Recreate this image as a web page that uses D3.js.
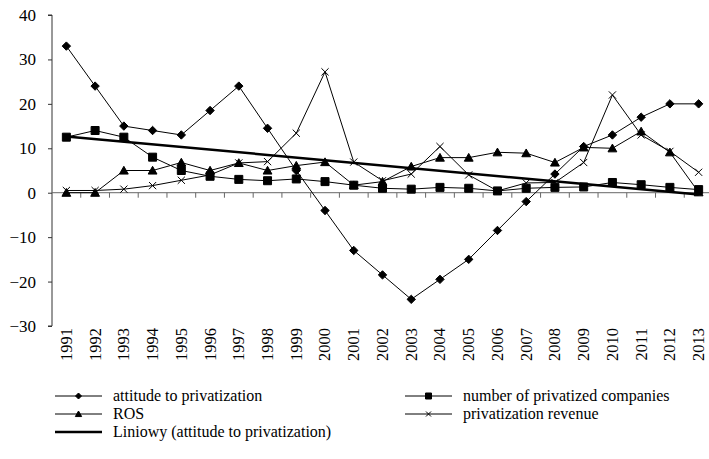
<!DOCTYPE html>
<html>
<head>
<meta charset="utf-8">
<script src="https://cdn.jsdelivr.net/npm/d3@7"></script>
<style>
	body { margin: 0; background: #fff; }
</style>
</head>
<body>
<div id="container"></div>
<script>
var width = 709, height = 459;
var serif = "Liberation Serif, DejaVu Serif, Times, serif";

var years = [1991, 1992, 1993, 1994, 1995, 1996, 1997, 1998, 1999, 2000, 2001, 2002,
	2003, 2004, 2005, 2006, 2007, 2008, 2009, 2010, 2011, 2012, 2013];
var attitude = [33, 24, 15, 14, 13, 18.5, 24, 14.5, 5, -4, -13, -18.5,
	-24, -19.5, -15, -8.5, -2, 4.2, 10.4, 13, 17, 20, 20];
var companies = [12.5, 14, 12.5, 8, 5, 3.7, 3, 2.7, 3.1, 2.5, 1.7, 1,
	0.8, 1.2, 1, 0.4, 1, 1.2, 1.3, 2.3, 1.8, 1.2, 0.7];
var ros = [0, 0, 5, 5, 6.8, 5, 6.7, 5, 6.1, 6.9, 1.7, 2.5,
	5.9, 7.9, 7.9, 9.1, 8.9, 6.8, 10.2, 10, 13.8, 9.1, 0.1];
var revenue = [0.5, 0.5, 0.8, 1.6, 2.8, 4, 6.7, 7, 13.4, 27.2, 6.9, 2.7,
	4.2, 10.4, 4, 0.4, 2.2, 2.3, 6.8, 22, 13, 9.3, 4.6];
var yTicks = [-30, -20, -10, 0, 10, 20, 30, 40];

var xScale = d3.scalePoint().domain(years).range([52, 713]).padding(0.5);
var yScale = d3.scaleLinear().domain([-30, 40]).range([326, 15]);

var translate = function (x, y) {
	return "translate(" + x + "," + y + ")";
};

// linear trend of attitude (Excel "Liniowy")
var n = years.length;
var mx = d3.mean(years), my = d3.mean(attitude);
var slope = d3.sum(years, function(d, i){ return (d - mx) * (attitude[i] - my); }) /
	d3.sum(years, function(d){ return (d - mx) * (d - mx); });
var trend = [years[0], years[n - 1]].map(function(d){ return {x: d, y: my + slope * (d - mx)}; });

var svg = d3.select('#container').append('svg')
	.attr('width', width)
	.attr('height', height)
	.attr('font-family', serif);

// y axis
var yAxis = d3.axisLeft(yScale).tickValues(yTicks).tickSize(4).tickPadding(12);
var gy = svg.append('g').attr('transform', translate(52, 0)).call(yAxis);
gy.attr('font-family', serif).attr('font-size', 17);
gy.select('.domain').attr('stroke', '#333').attr('d', 'M-4,' + yScale(40) + 'H0V' + yScale(-30) + 'H-4');
gy.selectAll('.tick line').attr('stroke', '#333');
gy.selectAll('.tick text').attr('fill', '#000');

// x axis at zero
var step = xScale.step();
var gx = svg.append('g');
gx.append('line')
	.attr('x1', 52).attr('x2', width)
	.attr('y1', yScale(0)).attr('y2', yScale(0))
	.attr('stroke', '#666');
gx.selectAll('.xtick').data(years.slice(0, n - 1)).enter().append('line')
	.attr('x1', function(d){ return xScale(d) + step / 2; })
	.attr('x2', function(d){ return xScale(d) + step / 2; })
	.attr('y1', yScale(0)).attr('y2', yScale(0) + 5)
	.attr('stroke', '#666');
gx.selectAll('.xlab').data(years).enter().append('text')
	.attr('transform', function(d){ return translate(xScale(d), 328) + ' rotate(-90)'; })
	.attr('text-anchor', 'end')
	.attr('dy', '0.33em')
	.attr('font-size', 16.5)
	.text(function(d){ return d; });

function markerPath(type, s) {
	if (type === 'diamond') return 'M0,' + (-s) + 'L' + s + ',0L0,' + s + 'L' + (-s) + ',0Z';
	if (type === 'square') return 'M' + (-s) + ',' + (-s) + 'H' + s + 'V' + s + 'H' + (-s) + 'Z';
	if (type === 'triangle') return 'M0,' + (-s) + 'L' + (s * 1.05) + ',' + (s * 0.85) + 'H' + (-s * 1.05) + 'Z';
	if (type === 'cross') return 'M' + (-s) + ',' + (-s) + 'L' + s + ',' + s + 'M' + s + ',' + (-s) + 'L' + (-s) + ',' + s;
	return '';
}

var series = [
	{name: 'attitude to privatization', values: attitude, marker: 'diamond', size: 4.2},
	{name: 'number of privatized companies', values: companies, marker: 'square', size: 4},
	{name: 'ROS', values: ros, marker: 'triangle', size: 4.2},
	{name: 'privatization revenue', values: revenue, marker: 'cross', size: 3.6}
];

var line = d3.line()
	.x(function(d){ return xScale(d.x); })
	.y(function(d){ return yScale(d.y); });

function drawSeries(s) {
	var pts = years.map(function(d, i){ return {x: d, y: s.values[i]}; });
	svg.append('path')
		.attr('d', line(pts))
		.attr('fill', 'none')
		.attr('stroke', '#000')
		.attr('stroke-width', 1);
	svg.append('g').selectAll('path').data(pts).enter().append('path')
		.attr('transform', function(d){ return translate(xScale(d.x), yScale(d.y)); })
		.attr('d', markerPath(s.marker, s.size))
		.attr('fill', s.marker === 'cross' ? 'none' : '#000')
		.attr('stroke', '#000')
		.attr('stroke-width', 1);
}

// draw order: revenue, ROS, trend, companies, attitude
drawSeries(series[3]);
drawSeries(series[2]);
svg.append('path')
	.attr('d', line(trend))
	.attr('fill', 'none')
	.attr('stroke', '#000')
	.attr('stroke-width', 2.5);
drawSeries(series[1]);
drawSeries(series[0]);

// legend
var legendItems = [
	{s: series[0], x: 55, y: 396},
	{s: series[1], x: 405, y: 396},
	{s: series[2], x: 55, y: 414},
	{s: series[3], x: 405, y: 414},
	{s: null, name: 'Liniowy (attitude to privatization)', x: 55, y: 432}
];
var lg = svg.append('g').selectAll('g').data(legendItems).enter().append('g')
	.attr('transform', function(d){ return translate(d.x, d.y); });
lg.append('line')
	.attr('x1', 0).attr('x2', 47)
	.attr('stroke', '#000')
	.attr('stroke-width', function(d){ return d.s ? 1 : 2.5; });
lg.filter(function(d){ return d.s; }).append('path')
	.attr('transform', translate(23.5, 0))
	.attr('d', function(d){ return markerPath(d.s.marker, d.s.marker === 'cross' ? 2.5 : 3); })
	.attr('fill', function(d){ return d.s.marker === 'cross' ? 'none' : '#000'; })
	.attr('stroke', '#000');
lg.append('text')
	.attr('x', 58)
	.attr('dy', '0.33em')
	.attr('font-size', 16)
	.text(function(d){ return d.s ? d.s.name : d.name; });
</script>
</body>
</html>
